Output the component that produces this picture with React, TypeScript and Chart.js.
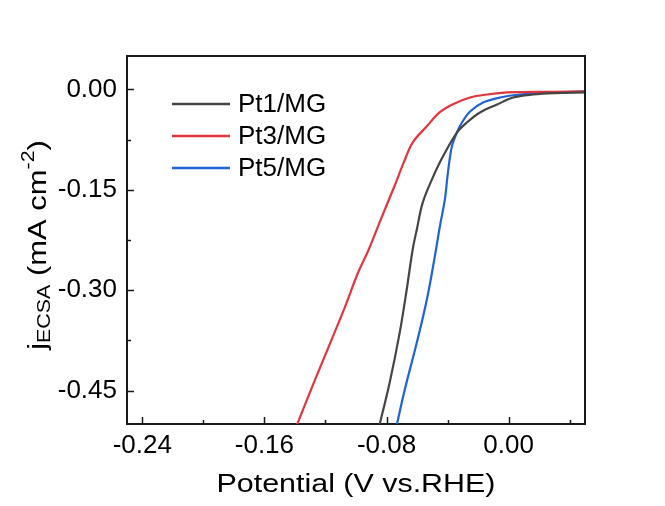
import React, { useEffect, useRef } from "react";
import { Chart, registerables } from "chart.js";

Chart.register(...registerables);

// ---- Data ----
const seriesLabels = ["Pt1/MG", "Pt3/MG", "Pt5/MG"];
const seriesColors = ["#454545", "#e2363f", "#1f63d4"];

const pt1X = [-0.0855, -0.078, -0.0714, -0.0668, -0.0629, -0.0602, -0.0563, -0.0503, -0.0431, -0.0339, -0.0274, -0.0188, -0.0076, 0.0029, 0.016, 0.03, 0.05];
const pt1Y = [-0.51, -0.4386, -0.3638, -0.2994, -0.2395, -0.2096, -0.1692, -0.1347, -0.1003, -0.0644, -0.0494, -0.0344, -0.0225, -0.012, -0.0075, -0.0055, -0.0045];

const pt3X = [-0.1402, -0.1288, -0.118, -0.1072, -0.0987, -0.0918, -0.0846, -0.0749, -0.0687, -0.0628, -0.0536, -0.0451, -0.0365, -0.0253, -0.0142, -0.001, 0.0075, 0.03, 0.05];
const pt3Y = [-0.51, -0.445, -0.385, -0.325, -0.274, -0.24, -0.199, -0.145, -0.109, -0.079, -0.055, -0.034, -0.022, -0.012, -0.0075, -0.0045, -0.004, -0.0035, -0.003];

const pt5X = [-0.0741, -0.0681, -0.0602, -0.0536, -0.0484, -0.0451, -0.0418, -0.0398, -0.0372, -0.0339, -0.0306, -0.0253, -0.0168, -0.0057, 0.0075, 0.0272, 0.05];
const pt5Y = [-0.51, -0.449, -0.3787, -0.3144, -0.25, -0.2051, -0.1647, -0.1243, -0.0853, -0.0644, -0.0494, -0.0329, -0.0195, -0.012, -0.0075, -0.0045, -0.003];

const xMajorTicks = [-0.24, -0.16, -0.08, 0.0];
const xMinorTicks = [-0.2, -0.12, -0.04, 0.04];
const yMajorTicks = [0, -0.15, -0.3, -0.45];
const yMinorTicks = [-0.075, -0.225, -0.375];

const X_MIN = -0.25;
const X_MAX = 0.05;
const Y_MIN = -0.5;
const Y_MAX = 0.05;

const FONT = "'Liberation Sans', Arial, sans-serif";

const toPoints = (xs: number[], ys: number[]) => xs.map((x, i) => ({ x, y: ys[i] }));

const framePlugin = {
  id: "framePlugin",
  afterDraw(chart: any) {
    const { ctx, chartArea } = chart;
    const { left, right, top, bottom } = chartArea;
    const xs = chart.scales.x;
    const ys = chart.scales.y;
    ctx.save();
    ctx.strokeStyle = "#1a1a1a";
    ctx.lineWidth = 2;
    // top & right frame
    ctx.beginPath();
    ctx.moveTo(left, top);
    ctx.lineTo(right, top);
    ctx.lineTo(right, bottom);
    ctx.stroke();
    // inward ticks
    ctx.lineWidth = 1.5;
    ctx.beginPath();
    xMajorTicks.forEach((v) => {
      const px = Math.round(xs.getPixelForValue(v)) + 0.5;
      ctx.moveTo(px, bottom);
      ctx.lineTo(px, bottom - 7);
    });
    xMinorTicks.forEach((v) => {
      const px = Math.round(xs.getPixelForValue(v)) + 0.5;
      ctx.moveTo(px, bottom);
      ctx.lineTo(px, bottom - 4);
    });
    yMajorTicks.forEach((v) => {
      const py = Math.round(ys.getPixelForValue(v)) + 0.5;
      ctx.moveTo(left, py);
      ctx.lineTo(left + 7, py);
    });
    yMinorTicks.forEach((v) => {
      const py = Math.round(ys.getPixelForValue(v)) + 0.5;
      ctx.moveTo(left, py);
      ctx.lineTo(left + 4, py);
    });
    ctx.stroke();

    // legend
    ctx.textBaseline = "middle";
    ctx.textAlign = "left";
    ctx.font = `26px ${FONT}`;
    seriesLabels.forEach((lab, i) => {
      const y = top + 48 + i * 32;
      ctx.strokeStyle = seriesColors[i];
      ctx.lineWidth = 2.5;
      ctx.beginPath();
      ctx.moveTo(left + 45, y);
      ctx.lineTo(left + 103, y);
      ctx.stroke();
      ctx.fillStyle = "#000";
      ctx.fillText(lab, left + 111, y + 1);
    });

    // x title
    ctx.save();
    ctx.fillStyle = "#000";
    ctx.textAlign = "center";
    ctx.textBaseline = "alphabetic";
    ctx.font = `26px ${FONT}`;
    ctx.translate((left + right) / 2, 492);
    ctx.scale(1.17, 1);
    ctx.fillText("Potential (V vs.RHE)", 0, 0);
    ctx.restore();

    // y title with sub/superscripts
    const parts = [
      { t: "j", size: 26, dy: 0 },
      { t: "ECSA", size: 18, dy: 4 },
      { t: " (mA cm", size: 26, dy: 0 },
      { t: "-2", size: 18, dy: -12 },
      { t: ")", size: 26, dy: 0 },
    ];
    ctx.save();
    ctx.fillStyle = "#000";
    ctx.textAlign = "left";
    ctx.textBaseline = "alphabetic";
    ctx.translate(46, (top + bottom) / 2 + 5);
    ctx.rotate(-Math.PI / 2);
    ctx.scale(1.19, 1);
    let total = 0;
    parts.forEach((p) => {
      ctx.font = `${p.size}px ${FONT}`;
      total += ctx.measureText(p.t).width;
    });
    let cx = -total / 2;
    parts.forEach((p) => {
      ctx.font = `${p.size}px ${FONT}`;
      ctx.fillText(p.t, cx, p.dy);
      cx += ctx.measureText(p.t).width;
    });
    ctx.restore();

    ctx.restore();
  },
};

export default function App() {
  const canvasRef = useRef<HTMLCanvasElement | null>(null);

  useEffect(() => {
    if (!canvasRef.current) return;
    const seriesXs = [pt1X, pt3X, pt5X];
    const seriesYs = [pt1Y, pt3Y, pt5Y];
    const chart = new Chart(canvasRef.current, {
      type: "scatter",
      data: {
        datasets: seriesLabels.map((label, i) => ({
          label,
          data: toPoints(seriesXs[i], seriesYs[i]),
          showLine: true,
          borderColor: seriesColors[i],
          backgroundColor: seriesColors[i],
          borderWidth: 2.2,
          pointRadius: 0,
          tension: 0.35,
        })),
      },
      options: {
        responsive: false,
        animation: false,
        devicePixelRatio: 1,
        layout: { padding: { top: 56, right: 80, left: 0, bottom: 0 } },
        plugins: { legend: { display: false }, tooltip: { enabled: false } },
        scales: {
          x: {
            type: "linear",
            min: X_MIN,
            max: X_MAX,
            afterBuildTicks: (s: any) => {
              s.ticks = xMajorTicks.map((v) => ({ value: v }));
            },
            afterFit: (s: any) => {
              s.height = 82;
            },
            grid: { display: true, drawOnChartArea: false, drawTicks: false },
            border: { display: true, color: "#1a1a1a", width: 2 },
            ticks: {
              padding: 6,
              color: "#000",
              autoSkip: false,
              maxRotation: 0,
              font: { family: FONT, size: 26 },
              callback: (v: any) => Number(v).toFixed(2),
            },
          },
          y: {
            type: "linear",
            min: Y_MIN,
            max: Y_MAX,
            afterBuildTicks: (s: any) => {
              s.ticks = yMajorTicks.map((v) => ({ value: v }));
            },
            afterFit: (s: any) => {
              s.width = 127;
            },
            grid: { display: true, drawOnChartArea: false, drawTicks: false },
            border: { display: true, color: "#1a1a1a", width: 2 },
            ticks: {
              padding: 10,
              color: "#000",
              autoSkip: false,
              font: { family: FONT, size: 26 },
              callback: (v: any) => Number(v).toFixed(2),
            },
          },
        },
      },
      plugins: [framePlugin],
    } as any);
    return () => chart.destroy();
  }, []);

  return (
    <div style={{ position: "fixed", left: 0, top: 0, width: 665, height: 506, background: "#fff" }}>
      <canvas ref={canvasRef} width={665} height={506} style={{ display: "block" }} />
    </div>
  );
}
